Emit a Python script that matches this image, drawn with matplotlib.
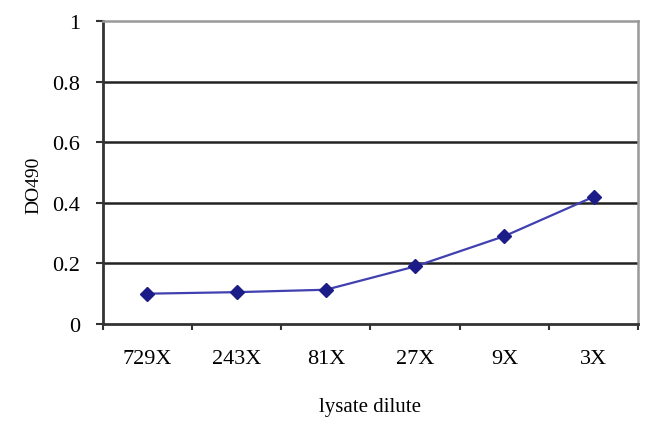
import matplotlib
matplotlib.use("Agg")
import matplotlib.pyplot as plt

categories = ["729X", "243X", "81X", "27X", "9X", "3X"]
values = [0.10, 0.105, 0.113, 0.19, 0.29, 0.42]
yticks = [0, 0.2, 0.4, 0.6, 0.8, 1]
ytick_labels = ["0", "0.2", "0.4", "0.6", "0.8", "1"]

plt.rcParams['font.family'] = ['Liberation Serif', 'DejaVu Serif']

fig = plt.figure(figsize=(6.5, 4.27), dpi=100)
ax = fig.add_axes([0.158, 0.239, 0.824, 0.709])

x = list(range(len(categories)))
ax.plot(x, values, color='#4040b0', lw=1.6, marker='D', markersize=7,
        markerfacecolor='#1c1c88', markeredgecolor='#1c1c88', zorder=3)

ax.set_xlim(-0.5, len(categories) - 0.5)
ax.set_ylim(0, 1)
ax.set_yticks(yticks)
ax.set_yticklabels(ytick_labels, fontsize=16)
ax.set_xticks(x)
ax.set_xticklabels(categories, fontsize=16)
ax.tick_params(axis='x', length=0, pad=18)
ax.tick_params(axis='y', length=5, width=1.5, color='#333333', pad=11, direction='out')
# minor ticks at category boundaries
ax.set_xticks([i - 0.5 for i in range(len(categories) + 1)], minor=True)
ax.tick_params(axis='x', which='minor', length=4, width=1.5, color='#333333', direction='out')

for yv in yticks[1:-1]:
    ax.axhline(yv, color='#222222', lw=1.8, zorder=1)

ax.spines['left'].set_color('#333333')
ax.spines['left'].set_linewidth(2)
ax.spines['bottom'].set_color('#333333')
ax.spines['bottom'].set_linewidth(2)
ax.spines['top'].set_color('#999999')
ax.spines['top'].set_linewidth(1.8)
ax.spines['right'].set_color('#999999')
ax.spines['right'].set_linewidth(1.8)

ax.set_ylabel("DO490", fontsize=14)
ax.yaxis.set_label_coords(-0.113, 0.46)
ax.set_xlabel("lysate dilute", fontsize=15)
ax.xaxis.set_label_coords(0.5, -0.242)

fig.savefig("out.png", dpi=100)
